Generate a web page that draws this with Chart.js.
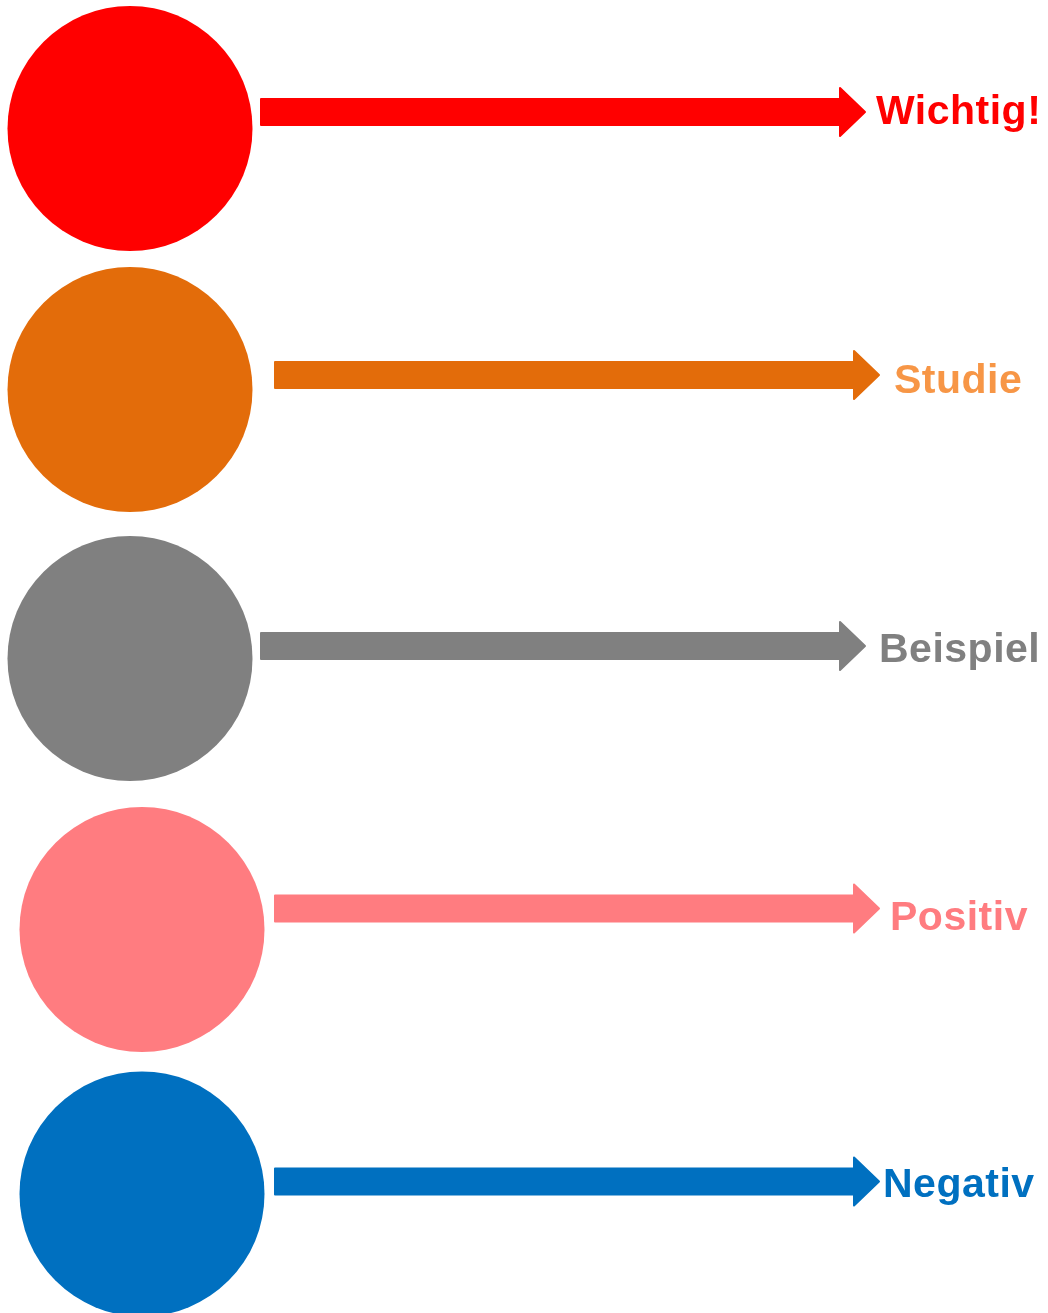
<!DOCTYPE html>
<html>
<head>
<meta charset="utf-8">
<script src="https://cdn.jsdelivr.net/npm/chart.js@4/dist/chart.umd.min.js"></script>
<style>
  html, body { margin: 0; padding: 0; background: #fff; }
  #wrap { width: 1048px; height: 1313px; }
</style>
</head>
<body>
<div id="wrap"><canvas id="legendChart"></canvas></div>
<script>
// categories and their colours
const labels = ['Wichtig!', 'Studie', 'Beispiel', 'Positiv', 'Negativ'];
const circleColors = ['#ff0000', '#e36c0a', '#808080', '#ff7c80', '#0070c0'];
const textColors = ['#ff0000', '#f79646', '#808080', '#ff7c80', '#0070c0'];

// circle centres (data units = page pixels)
const circleX = [130, 130, 130, 142, 142];
const circleY = [128.5, 389.5, 658.5, 929.5, 1194];

// arrows: start of shaft, tip, vertical centre
const arrowStart = [260, 274, 260, 274, 274];
const arrowTip = [866, 880, 866, 880, 880];
const arrowY = [112, 375, 646, 908.5, 1181.5];

// label anchor (left x, baseline y)
const labelX = [876, 894, 879, 890, 883];
const labelY = [124, 393, 662, 930, 1197];

// draws the arrows and their labels on top of the circles
const arrowPlugin = {
  id: 'arrows',
  afterDatasetsDraw(chart, args, opts) {
    const { ctx, scales: { x, y } } = chart;
    const half = opts.shaft / 2, headHalf = opts.head / 2;
    ctx.save();
    ctx.lineJoin = 'round';
    ctx.lineWidth = 2;
    labels.forEach((lab, i) => {
      const x0 = x.getPixelForValue(arrowStart[i]);
      const x1 = x.getPixelForValue(arrowTip[i]);
      const yc = y.getPixelForValue(arrowY[i]);
      const xb = x1 - opts.headLen;
      ctx.beginPath();
      ctx.moveTo(x0 + 1, yc - half + 1);
      ctx.lineTo(xb + 1, yc - half + 1);
      ctx.lineTo(xb + 1, yc - headHalf + 1);
      ctx.lineTo(x1 - 1, yc);
      ctx.lineTo(xb + 1, yc + headHalf - 1);
      ctx.lineTo(xb + 1, yc + half - 1);
      ctx.lineTo(x0 + 1, yc + half - 1);
      ctx.closePath();
      ctx.fillStyle = circleColors[i];
      ctx.strokeStyle = circleColors[i];
      ctx.fill();
      ctx.stroke();

      ctx.font = opts.font;
      ctx.letterSpacing = opts.spacing;
      ctx.textAlign = 'left';
      ctx.textBaseline = 'alphabetic';
      ctx.fillStyle = textColors[i];
      ctx.fillText(lab, x.getPixelForValue(labelX[i]), y.getPixelForValue(labelY[i]));
    });
    ctx.restore();
  }
};

new Chart(document.getElementById('legendChart'), {
  type: 'bubble',
  data: {
    datasets: [{
      data: labels.map((l, i) => ({ x: circleX[i], y: circleY[i], r: 122.5 })),
      backgroundColor: circleColors,
      borderWidth: 0,
    }]
  },
  options: {
    responsive: true,
    maintainAspectRatio: false,
    animation: false,
    events: [],
    layout: { padding: 0, autoPadding: false },
    scales: {
      x: { type: 'linear', min: 0, max: 1048, display: false },
      y: { type: 'linear', min: 0, max: 1313, reverse: true, display: false }
    },
    plugins: {
      legend: { display: false },
      tooltip: { enabled: false },
      arrows: { shaft: 28, head: 50, headLen: 27, font: 'bold 41px "Liberation Sans", Arial, sans-serif', spacing: '0.5px' }
    }
  },
  plugins: [arrowPlugin]
});
</script>
</body>
</html>
